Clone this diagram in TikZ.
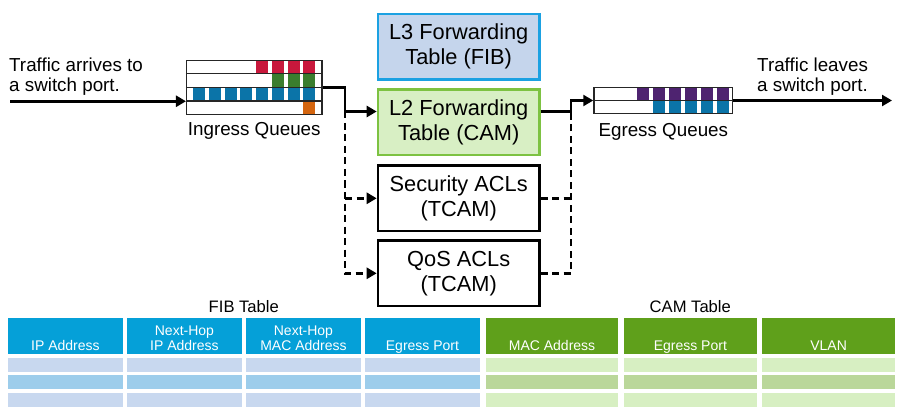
\documentclass[tikz,border=0pt]{standalone}
\usepackage{fontspec}
\setmainfont{Liberation Sans}
\usetikzlibrary{arrows.meta,calc}

\definecolor{qred}{HTML}{C8183C}
\definecolor{qgreen}{HTML}{3A7D2E}
\definecolor{qblue}{HTML}{0B74A8}
\definecolor{qorange}{HTML}{D4650F}
\definecolor{qpurple}{HTML}{4E2370}
\definecolor{lthreeline}{HTML}{1BA1E2}
\definecolor{lthreefill}{HTML}{C5D5EC}
\definecolor{ltwoline}{HTML}{7DC242}
\definecolor{ltwofill}{HTML}{D8EFC4}
\definecolor{fibblue}{HTML}{05A0D8}
\definecolor{fibrowa}{HTML}{C8D8EF}
\definecolor{fibrowb}{HTML}{9DCDEB}
\definecolor{camgreen}{HTML}{5FA01B}
\definecolor{camrowa}{HTML}{D7EFC2}
\definecolor{camrowb}{HTML}{BAD79A}

\begin{document}
\begin{tikzpicture}[x=1pt,y=-1pt,
  flow/.style={line width=2.8pt,-{Triangle[length=10pt,width=11pt]}},
  dflow/.style={flow,dash pattern=on 7pt off 4.5pt},
  dline/.style={line width=2.8pt,dash pattern=on 7pt off 4.5pt},
  qline/.style={line width=1.4pt,draw=black!85},
  lbl/.style={font=\fontsize{18.8}{20}\selectfont,align=left,inner sep=0pt},
  tbox/.style={draw,line width=2.5pt,minimum width=161.5pt,minimum height=65.5pt,
    align=center,inner sep=0pt,font=\fontsize{21.8}{25}\selectfont},
  headtxt/.style={anchor=south,text=white,align=center,inner sep=0pt,text depth=0pt,
    font=\fontsize{14}{15}\selectfont},
  ttitle/.style={anchor=base,inner sep=0pt,font=\fontsize{16.6}{18}\selectfont}]
  \useasboundingbox (0,0) rectangle (904,414) ;

  % queues
  \foreach \r/\first/\col in {0/4/qred,1/5/qgreen,2/0/qblue,3/7/qorange}
    \foreach \i in {\first,...,7}
      \fill[\col] ({193.3+15.7*\i},{60+13.75*\r}) rectangle +(12,13.75) ;
  \node[qline,draw,inner sep=0pt,minimum width=135.2pt,minimum height=53.7pt] (ingress) at (254.25,87.5) {} ;
  \foreach \r in {1,2,3}
    \draw[qline] ($(ingress.north west)+(0,13.75*\r)$) -- ($(ingress.north east)+(0,13.75*\r)$) ;
  \node[lbl,anchor=base] (inLabel) at (254.25,135.5) {Ingress Queues} ;

  \foreach \j in {0,...,5} \fill[qpurple] ({636.7+16*\j},87) rectangle +(12.3,13.5) ;
  \foreach \j in {1,...,5} \fill[qblue] ({636.7+16*\j},100.5) rectangle +(12.3,13.5) ;
  \node[qline,draw,inner sep=0pt,minimum width=138.7pt,minimum height=25.7pt] (egress) at (663.3,100.5) {} ;
  \draw[qline] (egress.west) -- (egress.east) ;
  \node[lbl,anchor=base] (outLabel) at (663.3,136.5) {Egress Queues} ;

  \node[lbl,anchor=west] (arrText) at (9,77) {Traffic arrives to\\a switch port.} ;
  \node[lbl,anchor=west] (leaveText) at (757,77) {Traffic leaves\\a switch port.} ;

  % tables in the switch
  \node[tbox,draw=lthreeline,fill=lthreefill] (lthree) at (458.7,46.7) {L3 Forwarding\\Table (FIB)} ;
  \node[tbox,draw=ltwoline,fill=ltwofill] (ltwo) at (458.7,122.5) {L2 Forwarding\\Table (CAM)} ;
  \node[tbox,fill=white] (sec) at (458.7,198.3) {Security ACLs\\(TCAM)} ;
  \node[tbox,fill=white] (qos) at (458.7,273.3) {QoS ACLs\\(TCAM)} ;

  \coordinate (inStart) at (10,101.25) ;
  \coordinate (outEnd) at (892,100.5) ;
  \coordinate (jl) at (345,111.5) ;
  \coordinate (jr) at (571,111.5) ;

  \draw[flow] (inStart) -- (inStart -| ingress.west) ;
  \draw[flow] (ingress.east) -| (jl) -- (jl -| ltwo.west) ;
  \draw[dflow] (jl) |- (qos.west) ;
  \draw[dflow] (jl |- sec.west) -- (sec.west) ;
  \draw[flow] (ltwo.east |- jr) -- (jr) |- (egress.west) ;
  \draw[dline] (sec.east) -- (sec.east -| jr) ;
  \draw[dline] (qos.east) -| (jr) ;
  \draw[flow] (egress.east) -- (outEnd) ;

  % FIB and CAM tables
  \node[ttitle] (fibTitle) at (243.8,312.7) {FIB Table} ;
  \node[ttitle] (camTitle) at (690.3,312.7) {CAM Table} ;
  \foreach \lab [count=\i from 0] in {{IP Address},{Next-Hop\\IP Address},{Next-Hop\\MAC Address},{Egress Port}} {
    \node[fill=fibblue,inner sep=0pt,minimum width=114.3pt,minimum height=35.7pt] (fibh\i) at ({65.45+119*\i},336.15) {} ;
    \node[headtxt] (fibt\i) at ($(fibh\i.south)+(0,-4)$) {\lab} ;
    \foreach \k/\c in {0/fibrowa,1/fibrowb,2/fibrowa}
      \fill[\c] ({8.3+119*\i},{357.7+17.5*\k}) rectangle +(114.3,14) ;
  }
  \foreach \lab [count=\j from 0] in {{MAC Address},{Egress Port},{VLAN}} {
    \node[fill=camgreen,inner sep=0pt,minimum width=132.7pt,minimum height=35.7pt] (camh\j) at ({552.05+138.3*\j},336.15) {} ;
    \node[headtxt] (camt\j) at ($(camh\j.south)+(0,-4)$) {\lab} ;
    \foreach \k/\c in {0/camrowa,1/camrowb,2/camrowa}
      \fill[\c] ({485.7+138.3*\j},{357.7+17.5*\k}) rectangle +(132.7,14) ;
  }
\end{tikzpicture}
\end{document}
